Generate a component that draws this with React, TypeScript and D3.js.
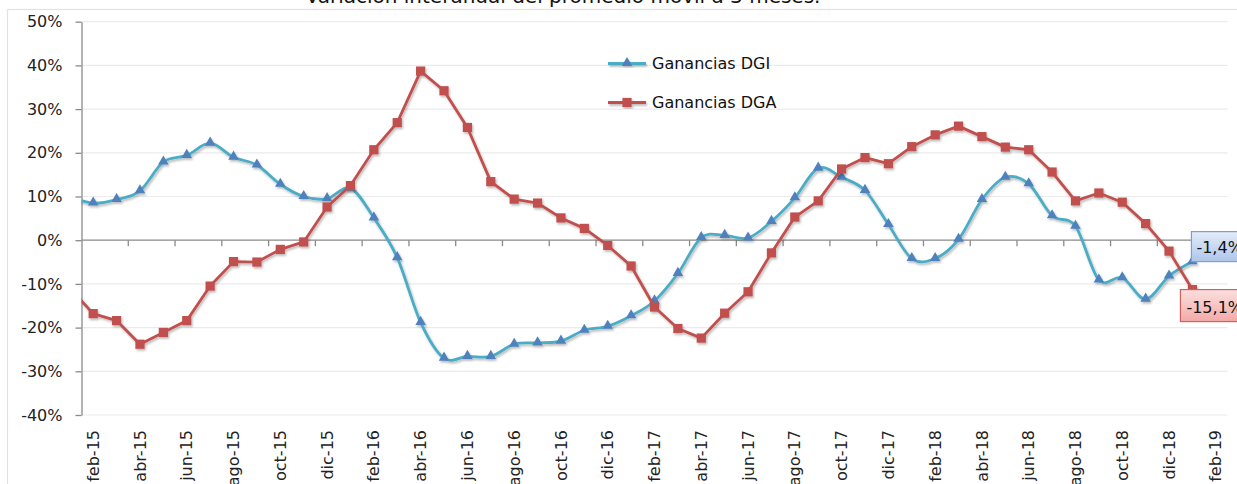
import React, { useEffect, useRef } from 'react';
import * as d3 from 'd3';

const monthNames = ['ene', 'feb', 'mar', 'abr', 'may', 'jun', 'jul', 'ago', 'sep', 'oct', 'nov', 'dic'];
const years = ['15', '16', '17', '18', '19'];

// ene-15 .. feb-19 (ene-15 sits left of the visible plot and is clipped)
const categories: string[] = years
  .flatMap(y => monthNames.map(m => `${m}-${y}`))
  .slice(0, 50);

const dgi = [
  10.0,
  8.5, 9.3, 11.3, 17.9, 19.4, 22.2, 19.0, 17.2, 12.8, 10.0, 9.5,
  11.9, 5.1, -4.0, -18.8, -27.0, -26.6, -26.6, -23.8, -23.5, -23.1, -20.6, -19.7,
  -17.3, -13.9, -7.6, 0.6, 1.1, 0.5, 4.3, 9.7, 16.5, 14.4, 11.4, 3.6,
  -4.2, -4.2, 0.2, 9.3, 14.4, 12.9, 5.6, 3.2, -9.1, -8.6, -13.5, -8.2,
  -4.9,
];

const dga = [
  -11.0,
  -16.8, -18.4, -23.8, -21.1, -18.4, -10.5, -4.9, -5.0, -2.1, -0.4, 7.6,
  12.5, 20.7, 26.9, 38.7, 34.2, 25.8, 13.4, 9.4, 8.5, 5.1, 2.7, -1.2,
  -5.9, -15.3, -20.2, -22.4, -16.7, -11.8, -2.9, 5.3, 9.0, 16.3, 18.9, 17.5,
  21.4, 24.1, 26.1, 23.7, 21.3, 20.7, 15.6, 9.0, 10.8, 8.7, 3.8, -2.5,
  -11.3,
];

const yTicks = [-40, -30, -20, -10, 0, 10, 20, 30, 40, 50];
const seriesNames = ['Ganancias DGI', 'Ganancias DGA'];
const lastLabels = ['-1,4%', '-15,1%'];
const title = 'Variación interanual del promedio móvil a 3 meses.';

const W = 1237;
const H = 484;
const FONT = '"DejaVu Sans", Verdana, sans-serif';

const App: React.FC = () => {
  const svgRef = useRef<SVGSVGElement>(null);

  useEffect(() => {
    if (!svgRef.current) return;
    const svg = d3.select(svgRef.current);
    svg.selectAll('*').remove();

    const left = 81.5, right = 1227.5, top = 21.7, bottom = 415;
    const step = (right - left) / 49;

    const x = d3.scaleBand<string>()
      .domain(categories)
      .range([left - step, right])
      .padding(0);
    const cx = (c: string) => (x(c) as number) + x.bandwidth() / 2;
    const y = d3.scaleLinear().domain([-40, 50]).range([bottom, top]);

    const defs = svg.append('defs');
    defs.append('clipPath').attr('id', 'plot')
      .append('rect').attr('x', left).attr('y', 0).attr('width', right - left + 20).attr('height', H);
    const f = defs.append('filter').attr('id', 'shadow')
      .attr('x', '-5%').attr('y', '-5%').attr('width', '110%').attr('height', '120%');
    f.append('feDropShadow')
      .attr('dx', 1.2).attr('dy', 1.8).attr('stdDeviation', 1)
      .attr('flood-color', '#000').attr('flood-opacity', 0.28);

    const gBlue = defs.append('linearGradient').attr('id', 'gBlue').attr('x1', 0).attr('x2', 0).attr('y1', 0).attr('y2', 1);
    gBlue.append('stop').attr('offset', '0%').attr('stop-color', '#e4ecf8');
    gBlue.append('stop').attr('offset', '100%').attr('stop-color', '#aec6ea');
    const gRed = defs.append('linearGradient').attr('id', 'gRed').attr('x1', 0).attr('x2', 0).attr('y1', 0).attr('y2', 1);
    gRed.append('stop').attr('offset', '0%').attr('stop-color', '#fbe0df');
    gRed.append('stop').attr('offset', '100%').attr('stop-color', '#f3a9a7');

    // chart border
    svg.append('rect')
      .attr('x', 7.5).attr('y', 9.5).attr('width', W + 20).attr('height', H + 20)
      .attr('fill', 'none').attr('stroke', '#e2e2e2').attr('stroke-width', 1.2);

    // title (cut off at top, as in the source)
    svg.append('text')
      .attr('x', 563).attr('y', 3)
      .attr('text-anchor', 'middle')
      .style('font-family', FONT).style('font-size', '20px').style('fill', '#111')
      .text(title);

    // gridlines
    svg.append('g').selectAll('line')
      .data(yTicks.filter(d => d !== 0))
      .enter().append('line')
      .attr('x1', left).attr('x2', right)
      .attr('y1', d => y(d)).attr('y2', d => y(d))
      .attr('stroke', '#ebebeb').attr('stroke-width', 1.2);

    // y axis
    const yAxis = svg.append('g')
      .attr('transform', `translate(${left},0)`)
      .call(d3.axisLeft(y).tickValues(yTicks).tickFormat(d => `${d}%`).tickSize(6).tickPadding(13).tickSizeOuter(0));
    yAxis.select('.domain').attr('stroke', '#8a8a8a').attr('stroke-width', 1.3);
    yAxis.selectAll('.tick line').attr('stroke', '#8a8a8a').attr('stroke-width', 1.3);
    yAxis.selectAll('.tick text')
      .style('font-family', FONT).style('font-size', '16px').style('fill', '#222');

    // x axis on zero line
    const y0 = y(0);
    svg.append('line')
      .attr('x1', left).attr('x2', right).attr('y1', y0).attr('y2', y0)
      .attr('stroke', '#8a8a8a').attr('stroke-width', 1.3);
    const labelled = categories.filter((_, i) => i >= 1 && i % 2 === 1);
    svg.append('g').selectAll('line')
      .data(labelled.slice(1))
      .enter().append('line')
      .attr('x1', d => x(d) as number).attr('x2', d => x(d) as number)
      .attr('y1', y0).attr('y2', y0 + 6)
      .attr('stroke', '#8a8a8a').attr('stroke-width', 1.3);
    svg.append('g').selectAll('text')
      .data(labelled)
      .enter().append('text')
      .attr('transform', d => `translate(${cx(d)},430) rotate(-90)`)
      .attr('dy', '0.35em')
      .attr('text-anchor', 'end')
      .style('font-family', FONT).style('font-size', '16px').style('fill', '#222')
      .text(d => d);

    const plot = svg.append('g').attr('clip-path', 'url(#plot)');

    // DGI: smoothed line, triangles
    const dgiLine = d3.line<number>()
      .x((_, i) => cx(categories[i]))
      .y(d => y(d))
      .curve(d3.curveCardinal.tension(0));
    const gI = plot.append('g').attr('filter', 'url(#shadow)');
    gI.append('path')
      .attr('d', dgiLine(dgi))
      .attr('fill', 'none').attr('stroke', '#4bacc6').attr('stroke-width', 2.8);
    const tri = d3.symbol().type(d3.symbolTriangle).size(48)();
    gI.selectAll('path.m')
      .data(dgi)
      .enter().append('path')
      .attr('class', 'm')
      .attr('d', tri)
      .attr('transform', (d, i) => `translate(${cx(categories[i])},${y(d) - 0.5})`)
      .attr('fill', '#4f81bd');

    // DGA: straight line, squares
    const dgaLine = d3.line<number>()
      .x((_, i) => cx(categories[i]))
      .y(d => y(d));
    const gA = plot.append('g').attr('filter', 'url(#shadow)');
    gA.append('path')
      .attr('d', dgaLine(dga))
      .attr('fill', 'none').attr('stroke', '#c0504d').attr('stroke-width', 2.8)
      .attr('stroke-linejoin', 'round');
    gA.selectAll('rect')
      .data(dga)
      .enter().append('rect')
      .attr('x', (_, i) => cx(categories[i]) - 4.6)
      .attr('y', d => y(d) - 4.6)
      .attr('width', 9.2).attr('height', 9.2)
      .attr('fill', '#c0504d');

    // data labels for the last point
    const lastI = dgi.length - 1;
    const bx = cx(categories[lastI]);
    const lb = svg.append('g');
    lb.append('rect')
      .attr('x', bx - 1).attr('y', y(dgi[lastI]) - 30).attr('width', 70).attr('height', 30)
      .attr('fill', 'url(#gBlue)').attr('stroke', '#7d9fd3').attr('stroke-width', 1.2);
    lb.append('text')
      .attr('x', bx + 4).attr('y', y(dgi[lastI]) - 9)
      .style('font-family', FONT).style('font-size', '16px').style('fill', '#111')
      .text(lastLabels[0]);
    lb.append('rect')
      .attr('x', bx - 12).attr('y', y(dga[lastI])).attr('width', 80).attr('height', 32)
      .attr('fill', 'url(#gRed)').attr('stroke', '#d0605c').attr('stroke-width', 1.2);
    lb.append('text')
      .attr('x', bx - 6).attr('y', y(dga[lastI]) + 23)
      .style('font-family', FONT).style('font-size', '16px').style('fill', '#111')
      .text(lastLabels[1]);

    // legend
    const legend = svg.append('g');
    const legendRows = [63.5, 102.5];
    seriesNames.forEach((name, i) => {
      const ly = legendRows[i];
      const g = legend.append('g').attr('filter', 'url(#shadow)');
      g.append('line')
        .attr('x1', 608).attr('x2', 646).attr('y1', ly).attr('y2', ly)
        .attr('stroke', i === 0 ? '#4bacc6' : '#c0504d').attr('stroke-width', 2.8);
      if (i === 0) {
        g.append('path').attr('d', tri).attr('transform', `translate(627,${ly - 0.5})`).attr('fill', '#4f81bd');
      } else {
        g.append('rect').attr('x', 627 - 4.6).attr('y', ly - 4.6).attr('width', 9.2).attr('height', 9.2).attr('fill', '#c0504d');
      }
      legend.append('text')
        .attr('x', 652).attr('y', ly).attr('dy', '0.36em')
        .style('font-family', FONT).style('font-size', '16px').style('fill', '#111')
        .text(name);
    });
  }, []);

  return (
    <svg
      ref={svgRef}
      width={W}
      height={H}
      style={{ position: 'absolute', left: 0, top: 0, background: '#fff' }}
    />
  );
};

export default App;
